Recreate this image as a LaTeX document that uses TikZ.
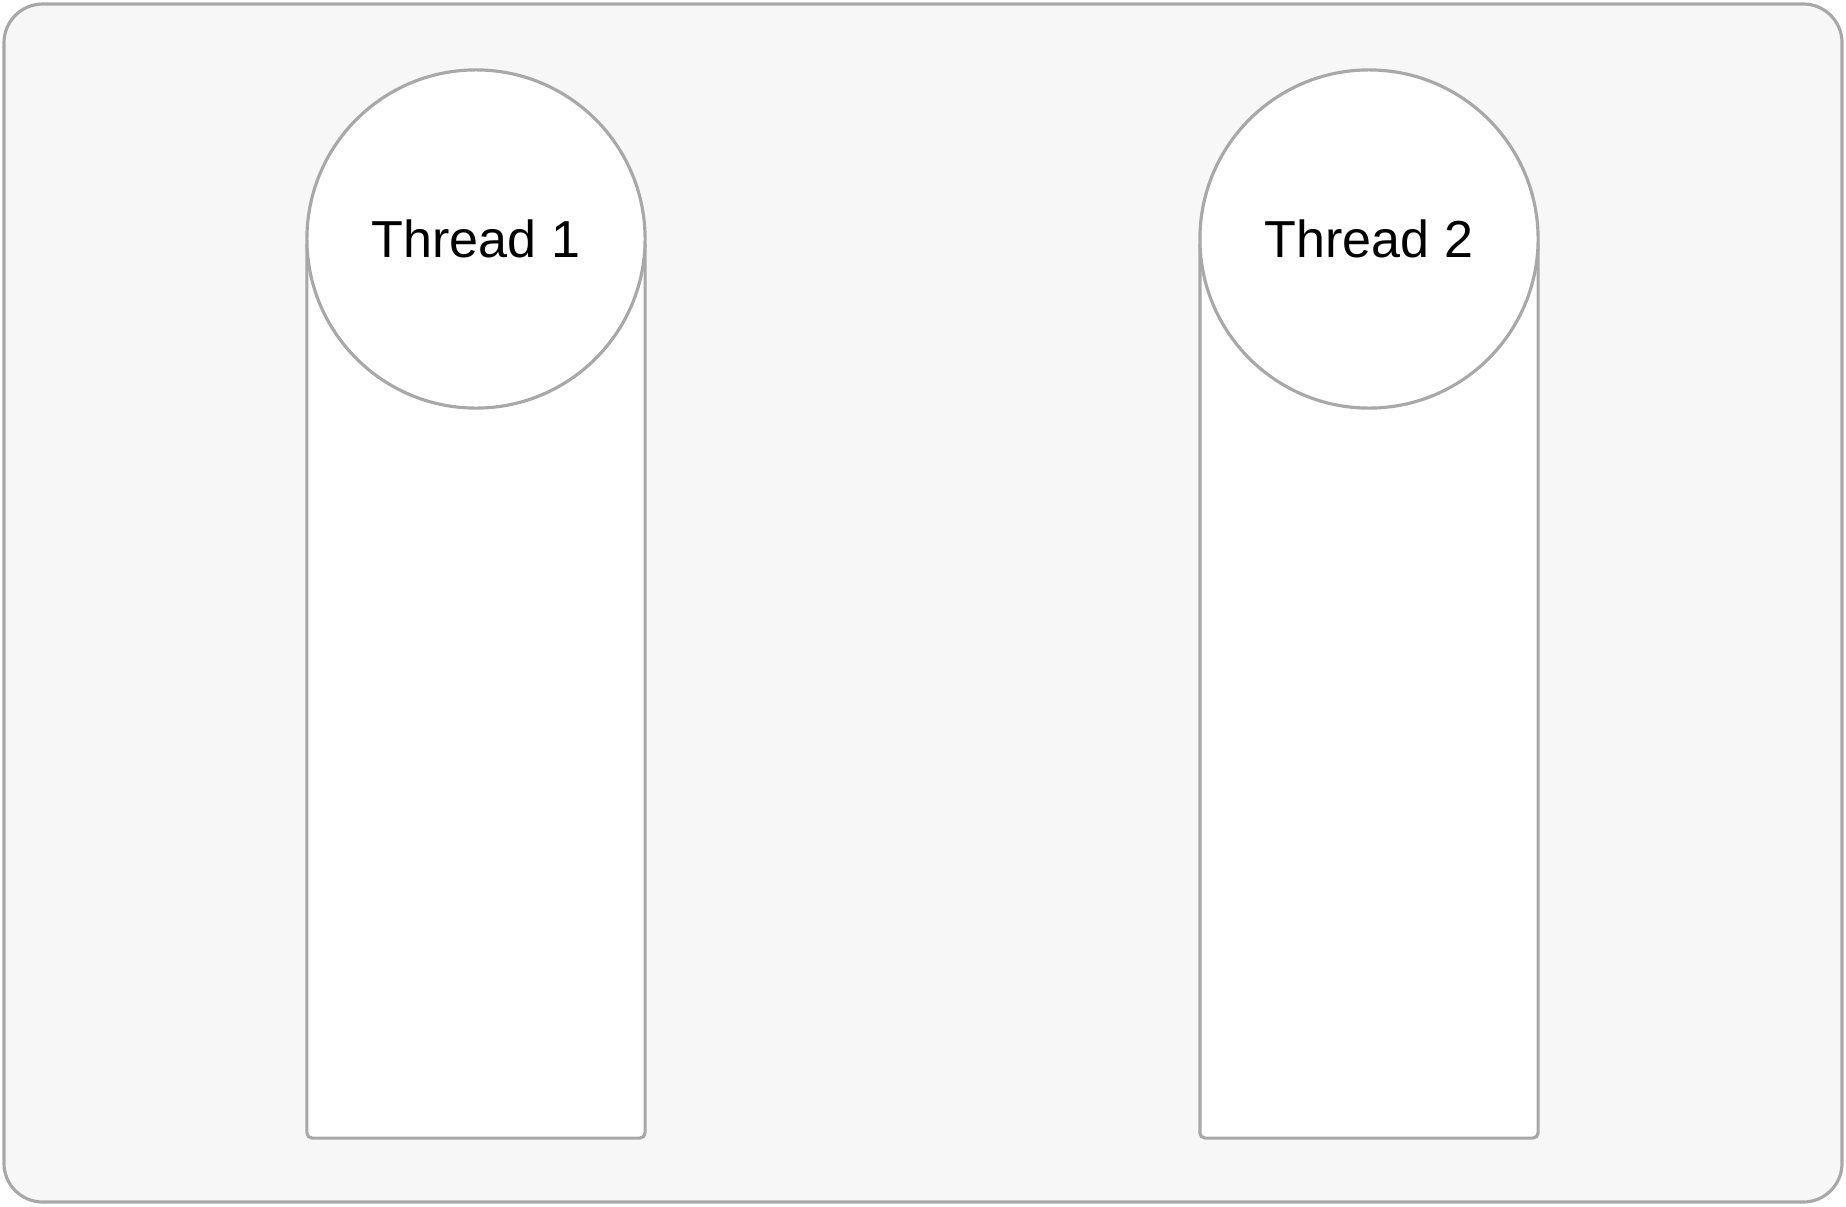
\documentclass[tikz,border=0pt]{standalone}
\usepackage{fontspec}
\setmainfont{Liberation Sans}
\usetikzlibrary{positioning}
\definecolor{framefill}{HTML}{F7F7F7}
\definecolor{edgegray}{HTML}{A8A8A8}
\tikzset{
  frame/.style={draw=edgegray, fill=framefill, line width=0.9pt, rounded corners=11pt},
  lane/.style={draw=edgegray, fill=white, line width=0.9pt, rounded corners=1.5pt,
    minimum width=3.38cm, minimum height=8.97cm, inner sep=0pt},
  threadhead/.style={circle, draw=edgegray, fill=white, line width=0.9pt,
    minimum size=3.38cm, inner sep=0pt, font=\fontsize{14.8}{18}\selectfont}
}

\begin{document}
\begin{tikzpicture}[x=0.01cm, y=-0.01cm]
  \useasboundingbox (0,0) rectangle (1846,1206);
  %
  % outer frame
  \draw[frame] (4,4) rectangle (1842,1202);
  %
  % one lane per thread, head circle on top of it
  \foreach \i/\x in {1/476, 2/1369}
  {
    \node[lane, anchor=north] (lane\i) at (\x,239) {};
    \node[threadhead] (thread\i) at (lane\i.north) {Thread \i};
  }
\end{tikzpicture}
\end{document}
